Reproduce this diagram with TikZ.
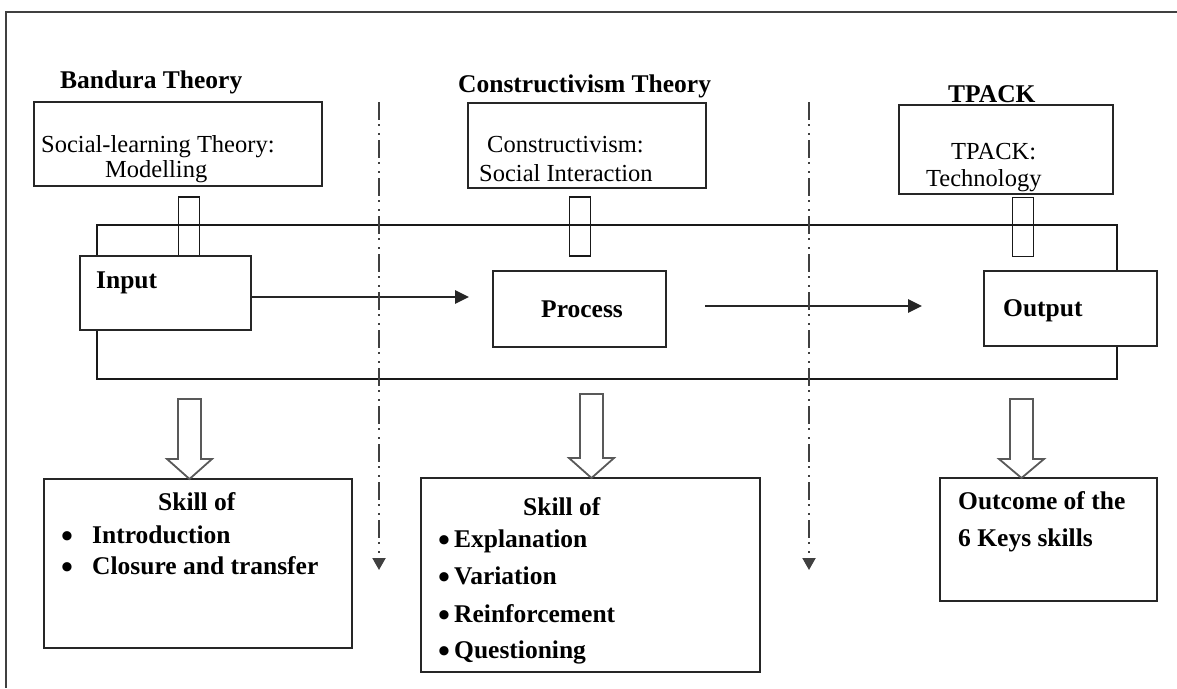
\documentclass[tikz,border=0pt]{standalone}
\usepackage{fontspec}
\setmainfont{Liberation Serif}
\usetikzlibrary{arrows.meta}
\begin{document}
\begin{tikzpicture}[x=1pt,y=-1pt,
  frame/.style={draw=black!75, line width=2.2pt},
  box/.style={draw=black!85, line width=1.7pt, fill=white, inner sep=0pt, outer sep=0pt},
  bar/.style={draw=black!90, line width=1.6pt, inner sep=0pt, outer sep=0pt, minimum width=21pt, minimum height=59pt},
  reg/.style={font=\fontsize{24.5}{28}\selectfont, inner sep=0pt, anchor=base west},
  bld/.style={font=\fontsize{25.5}{28}\selectfont\bfseries, inner sep=0pt, anchor=base west},
  dot/.style={font=\fontsize{34}{34}\selectfont\bfseries, inner sep=0pt, anchor=base west},
  flow/.style={draw=black!85, line width=2.6pt, -{Triangle[length=14pt,width=13pt]}},
  divider/.style={draw=black!75, line width=2pt,
    dash pattern=on 18pt off 4pt on 2pt off 7pt on 2pt off 5pt,
    -{Triangle[length=12pt,width=13pt]}},
  hollow/.style={draw=black!65, line width=1.8pt, fill=white, line join=miter}
]
\useasboundingbox (0,0) rectangle (1177,688);

% page frame (only top and left edges show)
\draw[frame] (1177,12) -- (6,12) -- (6,688);

% frame linking input, process and output
\draw[draw=black!90, line width=1.6pt] (97,225) rectangle (1117,379);

% theory headings
\node[bld] (hBand) at (60,88) {Bandura Theory};
\node[bld] (hCons) at (458,92) {Constructivism Theory};
\node[bld] (hTp) at (948,102) {TPACK};

% theory boxes
\node[box, minimum width=288pt, minimum height=84pt] (bandbox) at (178,144) {};
\node[box, minimum width=238pt, minimum height=85pt] (consbox) at (587,145.5) {};
\node[box, minimum width=214pt, minimum height=89pt] (tpbox) at (1006,149.5) {};
\node[reg] (tBand1) at (41,152) {Social-learning Theory:};
\node[reg] (tBand2) at (105,177) {Modelling};
\node[reg] (tCons1) at (487,152) {Constructivism:};
\node[reg] (tCons2) at (479,181) {Social Interaction};
\node[reg] (tTp1) at (951,159) {TPACK:};
\node[reg] (tTp2) at (926,186) {Technology};

% links from theory boxes down to the frame
\node[bar] (bar1) at (189,226.5) {};
\node[bar] (bar2) at (580,226.5) {};
\node[bar] (bar3) at (1023,227) {};

% input / process / output
\node[box, minimum width=171pt, minimum height=74pt] (input) at (165.5,293) {};
\node[box, minimum width=173pt, minimum height=76pt] (process) at (579.5,309) {};
\node[box, minimum width=173pt, minimum height=75pt] (output) at (1070.5,308.5) {};
\node[bld] (tIn) at (96,288) {Input};
\node[bld] (tPr) at (541,317) {Process};
\node[bld] (tOut) at (1003,316) {Output};

\coordinate (a1end) at (469,297);
\coordinate (a2start) at (705,306);
\coordinate (a2end) at (922,306);
\draw[flow] (input.east |- a1end) -- (a1end);
\draw[flow] (a2start) -- (a2end);

% dash-dot dividers
\coordinate (d1s) at (379,102);
\coordinate (d1e) at (379,570);
\coordinate (d2s) at (809,102);
\coordinate (d2e) at (809,570);
\draw[divider] (d1s) -- (d1e);
\draw[divider] (d2s) -- (d2e);

% skill boxes
\node[box, minimum width=308pt, minimum height=169pt] (skill1) at (198,563.5) {};
\node[box, minimum width=339pt, minimum height=194pt] (skill2) at (590.5,575) {};
\node[box, minimum width=217pt, minimum height=123pt] (skill3) at (1048.5,539.5) {};

% block arrows into the skill boxes
\coordinate (tip1) at (189.5,479);
\coordinate (tip2) at (591.5,478);
\coordinate (tip3) at (1021.5,478);
\draw[hollow, shift={(tip1)}] (0,0) -- (-22.5,-20) -- (-11.5,-20) -- (-11.5,-80) -- (11.5,-80) -- (11.5,-20) -- (22.5,-20) -- cycle;
\draw[hollow, shift={(tip2)}] (0,0) -- (-22.5,-20) -- (-11.5,-20) -- (-11.5,-84) -- (11.5,-84) -- (11.5,-20) -- (22.5,-20) -- cycle;
\draw[hollow, shift={(tip3)}] (0,0) -- (-22.5,-19) -- (-11.5,-19) -- (-11.5,-79) -- (11.5,-79) -- (11.5,-19) -- (22.5,-19) -- cycle;

% skill texts
\node[bld] (s1h) at (158,510) {Skill of};
\node[dot] (s1b1) at (61,547) {•};
\node[dot] (s1b2) at (61,578) {•};
\node[bld] (s1i1) at (92,543) {Introduction};
\node[bld] (s1i2) at (92,574) {Closure and transfer};

\node[bld] (s2h) at (523,515) {Skill of};
\node[dot] (s2b1) at (438,551) {•};
\node[dot] (s2b2) at (438,588) {•};
\node[dot] (s2b3) at (438,626) {•};
\node[dot] (s2b4) at (438,662) {•};
\node[bld] (s2i1) at (454,547) {Explanation};
\node[bld] (s2i2) at (454,584) {Variation};
\node[bld] (s2i3) at (454,622) {Reinforcement};
\node[bld] (s2i4) at (454,658) {Questioning};

\node[bld] (s3a) at (958,509) {Outcome of the};
\node[bld] (s3b) at (958,546) {6 Keys skills};
\end{tikzpicture}
\end{document}
